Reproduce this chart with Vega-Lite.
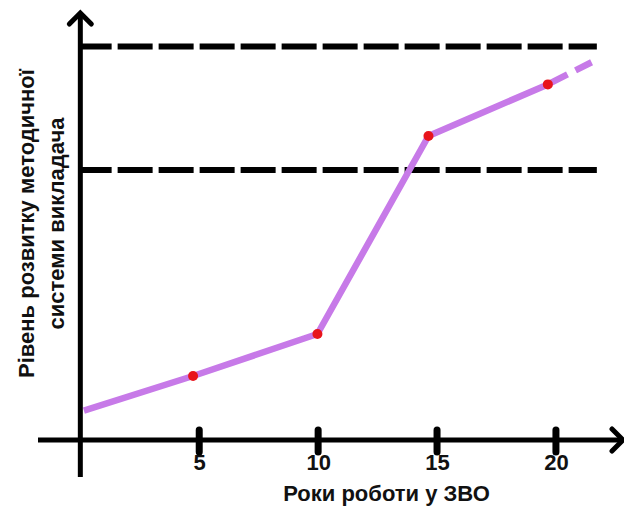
{
  "$schema": "https://vega.github.io/schema/vega-lite/v6.json",
  "autosize": {"type": "none"},
  "width": 585,
  "height": 464,
  "padding": {"left": 38, "top": 13, "right": 1, "bottom": 29},
  "background": "white",
  "config": {"view": {"stroke": null}},
  "encoding": {
    "x": {
      "field": "x", "type": "quantitative",
      "scale": {"domain": [-1.78, 22.82], "nice": false, "zero": false},
      "axis": {
        "values": [5, 10, 15, 20], "domain": false, "ticks": false, "grid": false,
        "offset": -37, "labelFont": "Liberation Sans", "labelFontSize": 22, "labelFontWeight": "bold",
        "labelColor": "#111", "labelPadding": 12,
        "title": "Роки роботи у ЗВО", "titleFont": "Liberation Sans", "titleFontSize": 22,
        "titleFontWeight": "bold", "titleColor": "#111", "titleX": 348, "titleY": 53,
        "titleBaseline": "middle", "titleAlign": "center", "titleAnchor": null
      }
    },
    "y": {
      "field": "y", "type": "quantitative",
      "scale": {"domain": [-9.25, 106.75], "nice": false, "zero": false},
      "axis": {
        "domain": false, "ticks": false, "labels": false, "grid": false,
        "title": ["Рівень розвитку методичної", "системи викладача"],
        "titleFont": "Liberation Sans", "titleFontSize": 22, "titleFontWeight": "bold",
        "titleColor": "#111", "titleX": -12, "titleY": 210, "titleBaseline": "middle",
        "titleAlign": "center", "titleAngle": -90, "titleLineHeight": 30
      }
    }
  },
  "layer": [
    {
      "data": {"values": [{"x": 0, "x2": 21.72, "y": 98.4}, {"x": 0, "x2": 21.72, "y": 67.5}]},
      "mark": {"type": "rule", "color": "#000", "strokeWidth": 6, "strokeDash": [35, 6], "strokeDashOffset": 3.7, "strokeCap": "butt"},
      "encoding": {"x2": {"field": "x2"}}
    },
    {
      "data": {"values": [{"x": 0, "y": -9.25, "y2": 106.75}]},
      "mark": {"type": "rule", "color": "#000", "strokeWidth": 5},
      "encoding": {"y2": {"field": "y2"}}
    },
    {
      "data": {"values": [{"x": -1.78, "x2": 22.82, "y": 0}]},
      "mark": {"type": "rule", "color": "#000", "strokeWidth": 5},
      "encoding": {"x2": {"field": "x2"}}
    },
    {
      "data": {"values": [{"x": 5, "y": -3, "y2": 2.5}, {"x": 10, "y": -3, "y2": 2.5}, {"x": 15, "y": -3, "y2": 2.5}, {"x": 20, "y": -3, "y2": 2.5}]},
      "mark": {"type": "rule", "color": "#000", "strokeWidth": 7, "strokeCap": "round"},
      "encoding": {"y2": {"field": "y2"}}
    },
    {
      "data": {"values": [{"x": 0, "y": 106.75}]},
      "mark": {"type": "point", "shape": "M-1,1L0,0L1,1", "size": 484, "filled": false, "color": "#000", "strokeWidth": 5, "opacity": 1, "strokeCap": "round"}
    },
    {
      "data": {"values": [{"x": 22.82, "y": 0}]},
      "mark": {"type": "point", "shape": "M-1,-1L0,0L-1,1", "size": 484, "filled": false, "color": "#000", "strokeWidth": 5, "opacity": 1, "strokeCap": "round"}
    },
    {
      "data": {"values": [{"x": 0.15, "y": 7.35}, {"x": 4.74, "y": 16}, {"x": 9.97, "y": 26.5}, {"x": 14.64, "y": 76}, {"x": 19.66, "y": 88.9}]},
      "mark": {"type": "line", "color": "#c77ae8", "strokeWidth": 6.5, "strokeJoin": "round"},
      "encoding": {}
    },
    {
      "data": {"values": [{"x": 19.66, "y": 88.9}, {"x": 21.72, "y": 95.1}]},
      "mark": {"type": "line", "color": "#c77ae8", "strokeWidth": 6.5, "strokeDash": [22, 9, 18, 100]},
      "encoding": {}
    },
    {
      "data": {"values": [{"x": 4.74, "y": 16}, {"x": 9.97, "y": 26.5}, {"x": 14.64, "y": 76}, {"x": 19.66, "y": 88.9}]},
      "mark": {"type": "point", "filled": true, "color": "#e8141c", "size": 100, "opacity": 1}
    }
  ]
}
